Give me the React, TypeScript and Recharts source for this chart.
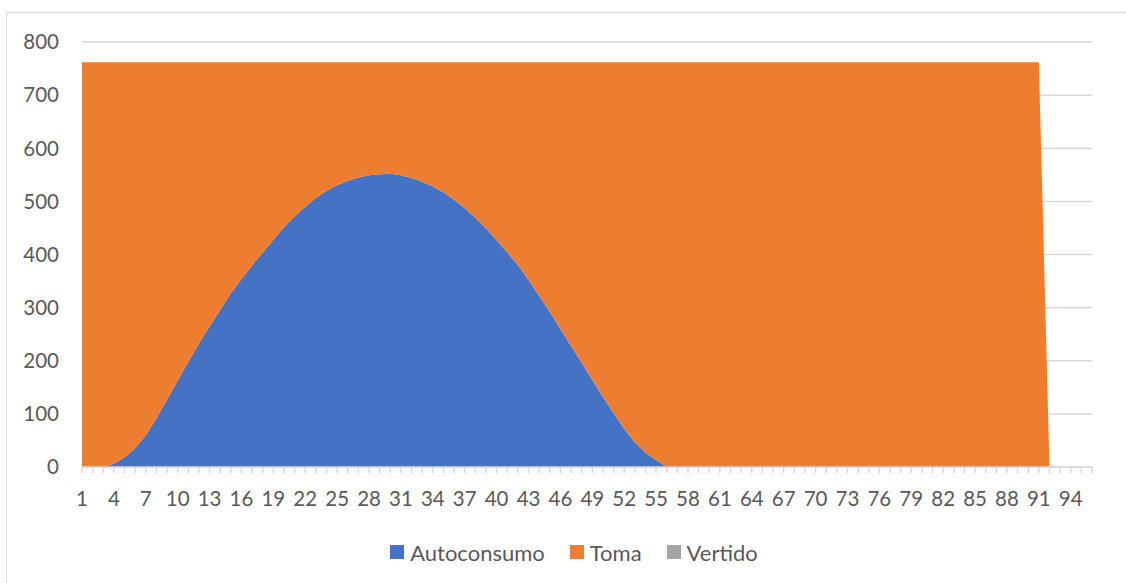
import React from "react";
import { AreaChart, Area, XAxis, YAxis, CartesianGrid, Legend } from "recharts";

const categories = Array.from({ length: 96 }, (_, i) => String(i + 1));

const autoconsumo = [
  0, 0, 0, 6, 18, 36, 60, 92, 127, 163,
  198, 233, 265, 296, 327, 354, 380, 404, 428, 452,
  472, 490, 507, 520, 531, 539, 545, 549, 551, 552,
  549, 544, 537, 528, 517, 503, 487, 469, 449, 427,
  404, 380, 352, 322, 292, 260, 228, 196, 164, 132,
  101, 72, 46, 27, 13, 0, 0, 0, 0, 0,
  0, 0, 0, 0, 0, 0, 0, 0, 0, 0,
  0, 0, 0, 0, 0, 0, 0, 0, 0, 0,
  0, 0, 0, 0, 0, 0, 0, 0, 0, 0,
  0, 0, 0, 0, 0, 0,
];

const toma = [
  762, 762, 762, 756, 744, 726, 702, 670, 635, 599,
  564, 529, 497, 466, 435, 408, 382, 358, 334, 310,
  290, 272, 255, 242, 231, 223, 217, 213, 211, 210,
  213, 218, 225, 234, 245, 259, 275, 293, 313, 335,
  358, 382, 410, 440, 470, 502, 534, 566, 598, 630,
  661, 690, 716, 735, 749, 762, 762, 762, 762, 762,
  762, 762, 762, 762, 762, 762, 762, 762, 762, 762,
  762, 762, 762, 762, 762, 762, 762, 762, 762, 762,
  762, 762, 762, 762, 762, 762, 762, 762, 762, 762,
  762, 0, 0, 0, 0, 0,
];

const vertido = [
  0, 0, 0, 0, 0, 0, 0, 0, 0, 0,
  0, 0, 0, 0, 0, 0, 0, 0, 0, 0,
  0, 0, 0, 0, 0, 0, 0, 0, 0, 0,
  0, 0, 0, 0, 0, 0, 0, 0, 0, 0,
  0, 0, 0, 0, 0, 0, 0, 0, 0, 0,
  0, 0, 0, 0, 0, 0, 0, 0, 0, 0,
  0, 0, 0, 0, 0, 0, 0, 0, 0, 0,
  0, 0, 0, 0, 0, 0, 0, 0, 0, 0,
  0, 0, 0, 0, 0, 0, 0, 0, 0, 0,
  0, 0, 0, 0, 0, 0,
];

const yTicks = [0, 100, 200, 300, 400, 500, 600, 700, 800];

const SERIES = [
  { key: "Autoconsumo", color: "#4472C4" },
  { key: "Toma", color: "#ED7D31" },
  { key: "Vertido", color: "#A5A5A5" },
];

const FONT = "Lato, 'Open Sans', sans-serif";
const TEXT = "#595959";
const GRID = "#d9d9d9";

const data = categories.map((c, i) => ({
  cat: c,
  Autoconsumo: autoconsumo[i],
  Toma: toma[i],
  Vertido: vertido[i],
}));

function XTick(props: any) {
  const { x, y, payload, index } = props;
  if (index % 3 !== 0) return null;
  return (
    <text x={x} y={y + 31} textAnchor="middle" fill={TEXT} fontSize={20.5} fontFamily={FONT}>
      {payload.value}
    </text>
  );
}

function LegendBox() {
  return (
    <div style={{ display: "flex", justifyContent: "center", alignItems: "center", height: 30, paddingLeft: 22, fontFamily: FONT, fontSize: 22, color: TEXT }}>
      {SERIES.map((s, i) => (
        <div key={s.key} style={{ display: "flex", alignItems: "center", marginLeft: i === 0 ? 0 : 25 }}>
          <span style={{ width: 14, height: 14, background: s.color, display: "inline-block", marginRight: 6 }} />
          <span>{s.key}</span>
        </div>
      ))}
    </div>
  );
}

export default function App() {
  return (
    <div style={{ position: "absolute", left: 0, top: 0, width: 1126, height: 583, overflow: "hidden", background: "#fff" }}>
      <div style={{ position: "absolute", left: 6, top: 12, width: 1200, height: 700, border: `1px solid ${GRID}` }} />
      <AreaChart width={1126} height={583} data={data} margin={{ top: 42, right: 34, bottom: 56, left: 0 }}>
        <CartesianGrid vertical={false} stroke={GRID} strokeWidth={1.5} />
        <XAxis
          dataKey="cat"
          interval={0}
          tick={<XTick />}
          tickSize={6}
          tickLine={{ stroke: GRID, strokeWidth: 1.5 }}
          axisLine={{ stroke: GRID, strokeWidth: 1.5 }}
          height={30}
        />
        <YAxis
          domain={[0, 800]}
          ticks={yTicks}
          width={82}
          axisLine={false}
          tickLine={false}
          tickMargin={17}
          tick={{ fill: TEXT, fontSize: 20.5, fontFamily: FONT }}
        />
        <Legend verticalAlign="bottom" height={30} content={() => <LegendBox />} wrapperStyle={{ top: 537, left: 0, width: 1126, height: 30 }} />
        {SERIES.map((s) => (
          <Area
            key={s.key}
            type="linear"
            dataKey={s.key}
            stackId="1"
            stroke="none"
            fill={s.color}
            fillOpacity={1}
            isAnimationActive={false}
          />
        ))}
      </AreaChart>
    </div>
  );
}
